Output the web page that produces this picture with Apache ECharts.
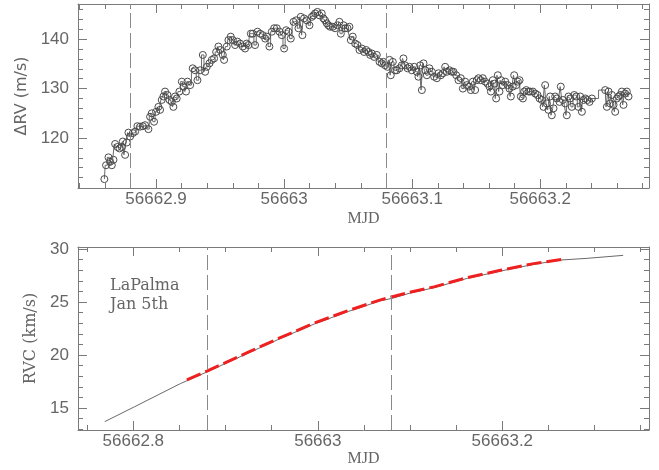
<!DOCTYPE html>
<html>
<head>
<meta charset="utf-8">
<script src="https://cdn.jsdelivr.net/npm/echarts@6/dist/echarts.min.js"></script>
<style>
html,body{margin:0;padding:0;background:#fff;}
#c{width:659px;height:470px;}
</style>
</head>
<body>
<div id="c"></div>
<script>
// ---------- Top panel: ΔRV measurements ----------
var dRvMJD = [
56662.8596,56662.8609,56662.8628,56662.8641,56662.8654,56662.8667,56662.8680,56662.8698,56662.8714,56662.8732,
56662.8740,56662.8758,56662.8771,56662.8784,56662.8797,56662.8818,56662.8836,56662.8854,56662.8875,56662.8896,
56662.8914,56662.8940,56662.8953,56662.8966,56662.8984,56662.9000,56662.9018,56662.9031,56662.9044,56662.9057,
56662.9070,56662.9089,56662.9104,56662.9122,56662.9135,56662.9148,56662.9161,56662.9182,56662.9201,56662.9214,
56662.9234,56662.9245,56662.9266,56662.9286,56662.9305,56662.9323,56662.9344,56662.9365,56662.9383,56662.9396,
56662.9417,56662.9435,56662.9453,56662.9469,56662.9487,56662.9500,56662.9521,56662.9531,56662.9552,56662.9565,
56662.9583,56662.9599,56662.9617,56662.9635,56662.9656,56662.9677,56662.9695,56662.9708,56662.9721,56662.9740,
56662.9755,56662.9773,56662.9792,56662.9813,56662.9833,56662.9852,56662.9865,56662.9885,56662.9904,56662.9922,
56662.9943,56662.9964,56662.9982,56663.0000,56663.0016,56663.0034,56663.0052,56663.0073,56663.0094,56663.0112,
56663.0130,56663.0143,56663.0156,56663.0177,56663.0198,56663.0216,56663.0229,56663.0242,56663.0260,56663.0276,
56663.0294,56663.0307,56663.0320,56663.0333,56663.0346,56663.0359,56663.0380,56663.0398,56663.0417,56663.0432,
56663.0443,56663.0464,56663.0477,56663.0495,56663.0510,56663.0521,56663.0536,56663.0555,56663.0573,56663.0589,
56663.0607,56663.0625,56663.0641,56663.0659,56663.0672,56663.0685,56663.0703,56663.0724,56663.0745,56663.0763,
56663.0776,56663.0789,56663.0807,56663.0823,56663.0833,56663.0849,56663.0867,56663.0880,56663.0901,56663.0919,
56663.0932,56663.0945,56663.0964,56663.0979,56663.0997,56663.1016,56663.1036,56663.1049,56663.1063,56663.1076,
56663.1089,56663.1102,56663.1115,56663.1135,56663.1154,56663.1172,56663.1193,56663.1206,56663.1224,56663.1240,
56663.1258,56663.1271,56663.1292,56663.1310,56663.1323,56663.1344,56663.1362,56663.1380,56663.1396,56663.1414,
56663.1427,56663.1445,56663.1458,56663.1474,56663.1492,56663.1505,56663.1518,56663.1536,56663.1552,56663.1570,
56663.1589,56663.1604,56663.1615,56663.1630,56663.1643,56663.1656,56663.1669,56663.1682,56663.1693,56663.1708,
56663.1727,56663.1745,56663.1760,56663.1771,56663.1786,56663.1797,56663.1813,56663.1826,56663.1839,56663.1849,
56663.1865,56663.1875,56663.1891,56663.1909,56663.1922,56663.1943,56663.1961,56663.1979,56663.1995,56663.2013,
56663.2026,56663.2039,56663.2052,56663.2065,56663.2078,56663.2091,56663.2104,56663.2117,56663.2130,56663.2151,
56663.2161,56663.2177,56663.2195,56663.2208,56663.2221,56663.2234,56663.2247,56663.2266,56663.2281,56663.2299,
56663.2313,56663.2326,56663.2339,56663.2352,56663.2370,56663.2385,56663.2404,56663.2508,56663.2521,56663.2534,
56663.2547,56663.2560,56663.2573,56663.2586,56663.2599,56663.2612,56663.2625,56663.2638,56663.2651,56663.2664,
56663.2677,56663.2690
];
var dRv = [
111.7,114.5,116.1,115.2,114.5,115.6,118.8,118.2,117.9,118.2,
119.3,116.6,119.1,121.1,120.3,121.0,121.3,122.4,122.3,122.4,
122.6,121.8,124.3,125.0,123.3,125.3,126.3,125.7,127.7,128.4,
129.4,128.7,127.7,127.3,126.3,128.4,128.0,129.4,131.4,130.4,
129.4,131.4,130.7,134.1,133.7,131.7,133.7,136.8,133.4,134.4,
135.1,135.8,136.1,137.4,138.5,137.8,136.8,135.8,138.5,139.8,
140.5,139.8,138.8,139.5,139.1,138.5,138.1,139.1,138.8,141.1,
141.1,138.8,141.5,141.1,140.8,140.1,140.5,138.5,141.5,142.2,
142.2,141.5,140.8,138.1,141.8,141.5,140.1,143.5,143.8,142.2,
144.5,140.8,144.2,143.8,142.8,144.5,144.8,145.2,145.5,144.8,
145.2,144.2,143.8,143.2,142.8,142.5,142.5,142.2,142.8,143.5,
141.1,142.8,142.2,142.2,142.5,139.8,140.5,139.1,138.8,137.8,
138.1,137.4,137.8,137.4,136.8,137.1,136.4,136.8,135.4,135.1,
135.4,134.7,134.4,135.8,132.7,135.4,133.7,133.7,134.1,134.7,
136.1,134.7,134.1,134.4,133.7,134.4,133.4,132.4,134.7,129.7,
135.1,133.7,132.7,134.1,133.4,132.4,132.1,133.1,132.7,133.1,
134.4,133.4,133.7,133.4,133.4,132.7,131.7,132.1,130.0,131.4,
130.7,130.4,129.7,131.4,129.7,131.7,132.1,131.7,132.1,131.4,
131.0,130.4,129.4,131.7,131.0,128.0,132.7,129.4,131.7,130.7,
131.4,130.7,130.0,128.4,130.4,132.7,130.7,131.4,131.7,128.4,
128.0,129.4,129.7,129.4,129.4,129.4,129.0,128.7,128.0,127.7,
126.3,130.7,127.0,125.7,128.4,124.6,126.0,128.4,128.0,127.3,
130.4,127.7,127.0,124.6,128.4,128.0,126.3,128.7,128.4,126.3,
128.4,125.3,127.7,128.0,127.7,127.3,128.0,129.7,126.3,129.4,
127.0,128.7,126.7,125.3,128.0,128.4,128.7,129.4,126.7,129.0,
129.4,128.4
];
// observing-window markers (MJD)
var windowMJD = [56662.880, 56663.084];

// ---------- Bottom panel: RVC curve ----------
var rvcMJD = [56662.769,56662.801,56662.851,56662.878,56662.924,56662.960,56662.996,56663.032,56663.068,56663.081,56663.099,56663.126,56663.162,56663.198,56663.234,56663.263,56663.292,56663.331];
var rvc    = [13.71,15.10,17.30,18.33,20.16,21.58,22.92,24.08,25.12,25.35,25.82,26.35,27.23,27.92,28.55,28.96,29.12,29.40];
var fitMJD = [56662.858,56662.878,56662.924,56662.960,56662.996,56663.032,56663.068,56663.099,56663.126,56663.162,56663.198,56663.234,56663.264];
var fit    = [17.65,18.40,20.24,21.66,23.00,24.16,25.20,25.90,26.43,27.30,27.99,28.62,29.02];

// ---------- Axis ranges and tick labels ----------
var topX = {min:56662.839, max:56663.285, major:[56662.9,56663,56663.1,56663.2]};
var topY = {min:109.9, max:147.1, major:[120,130,140]};
var botX = {min:56662.740, max:56663.359, major:[56662.8,56663,56663.2]};
var botY = {min:12.92, max:30.19, major:[15,20,25,30]};

function steps(a, b, s, majors){
  var out=[]; var n=Math.round((b-a)/s);
  for(var i=0;i<=n;i++){
    var v=Math.round((a+i*s)*1000)/1000;
    if(majors.indexOf(v)<0) out.push(v);
  }
  return out;
}
var topXMinor = steps(56662.84, 56663.28, 0.02, topX.major);
var topYMinor = steps(112, 146, 2, topY.major);
var botXMinor = steps(56662.75, 56663.35, 0.05, botX.major);
var botYMinor = steps(13, 29, 1, botY.major);

var AX = '#7a7a7a', TXT = '#666';
var tickFont = {fontFamily:'Liberation Sans', fontSize:17, color:TXT};

function xAx(grid, r, pos, ticks, len, labels, extra){
  var a = {
    type:'value', gridIndex:grid, min:r.min, max:r.max, position:pos,
    axisLine:{show:len>6, onZero:false, lineStyle:{color:AX, width:1}},
    axisTick:{show:true, inside:true, length:len, customValues:ticks, lineStyle:{color:AX, width:1}},
    axisLabel:Object.assign({show:labels, customValues:ticks, margin:3, formatter:function(v){return String(v);}}, tickFont),
    splitLine:{show:false}
  };
  return Object.assign(a, extra||{});
}
function yAx(grid, r, pos, ticks, len, labels, extra){
  var a = {
    type:'value', gridIndex:grid, min:r.min, max:r.max, position:pos,
    axisLine:{show:len>6, onZero:false, lineStyle:{color:AX, width:1}},
    axisTick:{show:true, inside:true, length:len, customValues:ticks, lineStyle:{color:AX, width:1}},
    axisLabel:Object.assign({show:labels, customValues:ticks, margin:9, formatter:function(v){return String(v);}}, tickFont),
    splitLine:{show:false}
  };
  return Object.assign(a, extra||{});
}
var nameX = {nameLocation:'middle', nameTextStyle:{fontFamily:'Liberation Serif', fontSize:16, color:TXT}};

var xAxes = [
  xAx(0, topX, 'bottom', topX.major, 9, true, Object.assign({name:'MJD', nameGap:23}, nameX)),
  xAx(0, topX, 'bottom', topXMinor, 5, false),
  xAx(0, topX, 'top', topX.major, 9, false),
  xAx(0, topX, 'top', topXMinor, 5, false),
  xAx(1, botX, 'bottom', botX.major, 9, true, Object.assign({name:'MJD', nameGap:18}, nameX)),
  xAx(1, botX, 'bottom', botXMinor, 5, false),
  xAx(1, botX, 'top', botX.major, 9, false),
  xAx(1, botX, 'top', botXMinor, 5, false)
];
var yAxes = [
  yAx(0, topY, 'left', topY.major, 9, true, {name:'ΔRV (m/s)', nameLocation:'middle', nameGap:45, nameTextStyle:{fontFamily:'DejaVu Sans', fontSize:16, color:TXT}}),
  yAx(0, topY, 'left', topYMinor, 5, false),
  yAx(0, topY, 'right', topY.major, 9, false),
  yAx(0, topY, 'right', topYMinor, 5, false),
  yAx(1, botY, 'left', botY.major, 9, true, {name:'RVC (km/s)', nameLocation:'middle', nameGap:37, nameTextStyle:{fontFamily:'DejaVu Serif', fontSize:16, color:TXT}}),
  yAx(1, botY, 'left', botYMinor, 5, false),
  yAx(1, botY, 'right', botY.major, 9, false),
  yAx(1, botY, 'right', botYMinor, 5, false)
];

function zip(a,b){ return a.map(function(v,i){return [v,b[i]];}); }
var vLines = {
  silent:true, symbol:'none', animation:false,
  label:{show:false},
  lineStyle:{color:'#8a8a8a', width:1, type:[15,5]},
  data: windowMJD.map(function(v){return {xAxis:v};})
};

var chart = echarts.init(document.getElementById('c'), null, {renderer:'canvas'});
chart.setOption({
  animation:false,
  backgroundColor:'#fff',
  grid:[
    {left:78, top:4, width:571, height:184, outerBoundsMode:'none'},
    {left:78, top:247, width:571, height:183, outerBoundsMode:'none'}
  ],
  xAxis:xAxes,
  yAxis:yAxes,
  graphic:[{
    type:'text', left:110, top:276,
    style:{text:'LaPalma\nJan 5th', fontFamily:'DejaVu Serif', fontSize:16, lineHeight:19, fill:TXT}
  }],
  series:[
    {
      type:'line', xAxisIndex:0, yAxisIndex:0, data:zip(dRvMJD, dRv),
      step:'middle', symbol:'circle', symbolSize:7, showSymbol:true,
      lineStyle:{color:'#6a6a6a', width:1},
      itemStyle:{color:'rgba(255,255,255,0)', borderColor:'#4a4a4a', borderWidth:1},
      markLine:vLines, z:3
    },
    {
      type:'line', xAxisIndex:4, yAxisIndex:4, data:zip(rvcMJD, rvc),
      smooth:false, symbol:'none',
      lineStyle:{color:'#6a6a6a', width:1},
      markLine:vLines, z:2
    },
    {
      type:'line', xAxisIndex:4, yAxisIndex:4, data:zip(fitMJD, fit),
      smooth:false, symbol:'none',
      lineStyle:{color:'#ee2020', width:3, type:[15,5]}, z:3
    }
  ]
});
</script>
</body>
</html>
